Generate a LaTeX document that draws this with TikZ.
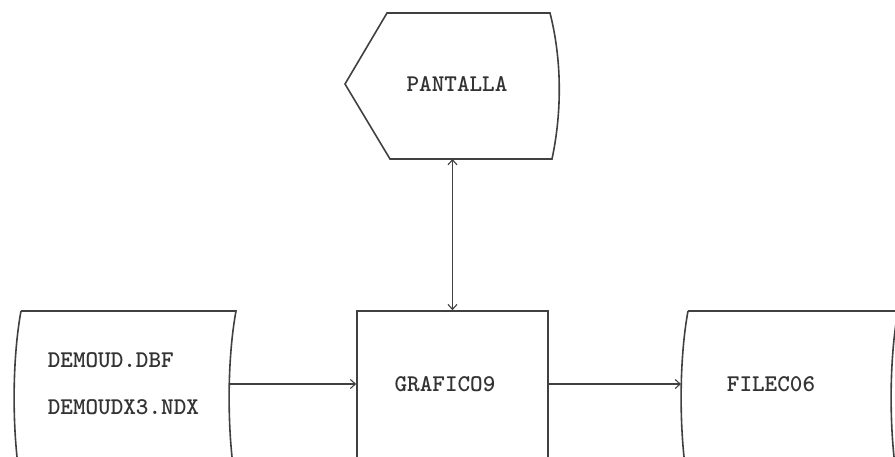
\documentclass[tikz,border=0pt]{standalone}
\usetikzlibrary{arrows.meta}

\begin{document}
\begin{tikzpicture}[x=1pt, y=-1pt, line width=1.6pt, color=black!75,
  >={Straight Barb[length=5pt,width=9pt]},
  flow/.style={->, line width=1.1pt},
  lbl/.style={font=\fontsize{24}{47}\selectfont\ttfamily\bfseries, text=black!80, inner sep=0pt},
  procbox/.style={draw, minimum width=191pt, minimum height=170pt}]
  \useasboundingbox (0,0) rectangle (895,456);
  \clip (0,0) rectangle (895,456);
  % display
  \draw (387,13) -- (550,13) .. controls (562,60) and (562,112) .. (552,159) -- (390,159) -- (345,84) -- cycle;
  \node[lbl] (pan) at (457,84) {PANTALLA};
  \coordinate (pan-s) at (452.5,159);
  % input file
  \draw (21,311) -- (236,311) .. controls (227,360) and (227,430) .. (235,480);
  \draw (21,311) .. controls (12,360) and (12,430) .. (20,480);
  \node[lbl, anchor=west, align=left] (dbf) at (47,384) {DEMOUD.DBF\\DEMOUDX3.NDX};
  \coordinate (dbf-e) at (229,384);
  % program
  \node[procbox] (graf) at (452.5,396) {};
  \node[lbl] (graft) at (445,384) {GRAFICO9};
  % output file
  \draw (688,311) -- (905,311);
  \draw (688,311) .. controls (679,360) and (679,430) .. (687,480);
  \draw (898,311) .. controls (889,360) and (889,430) .. (897,480);
  \node[lbl] (c06) at (771,384) {FILEC06};
  \coordinate (c06-w) at (681,384);
  % connectors
  \draw[flow, <->] (pan-s) -- (graf.north);
  \draw[flow] (dbf-e) -- (dbf-e -| graf.west);
  \draw[flow] (dbf-e -| graf.east) -- (c06-w);
\end{tikzpicture}
\end{document}
